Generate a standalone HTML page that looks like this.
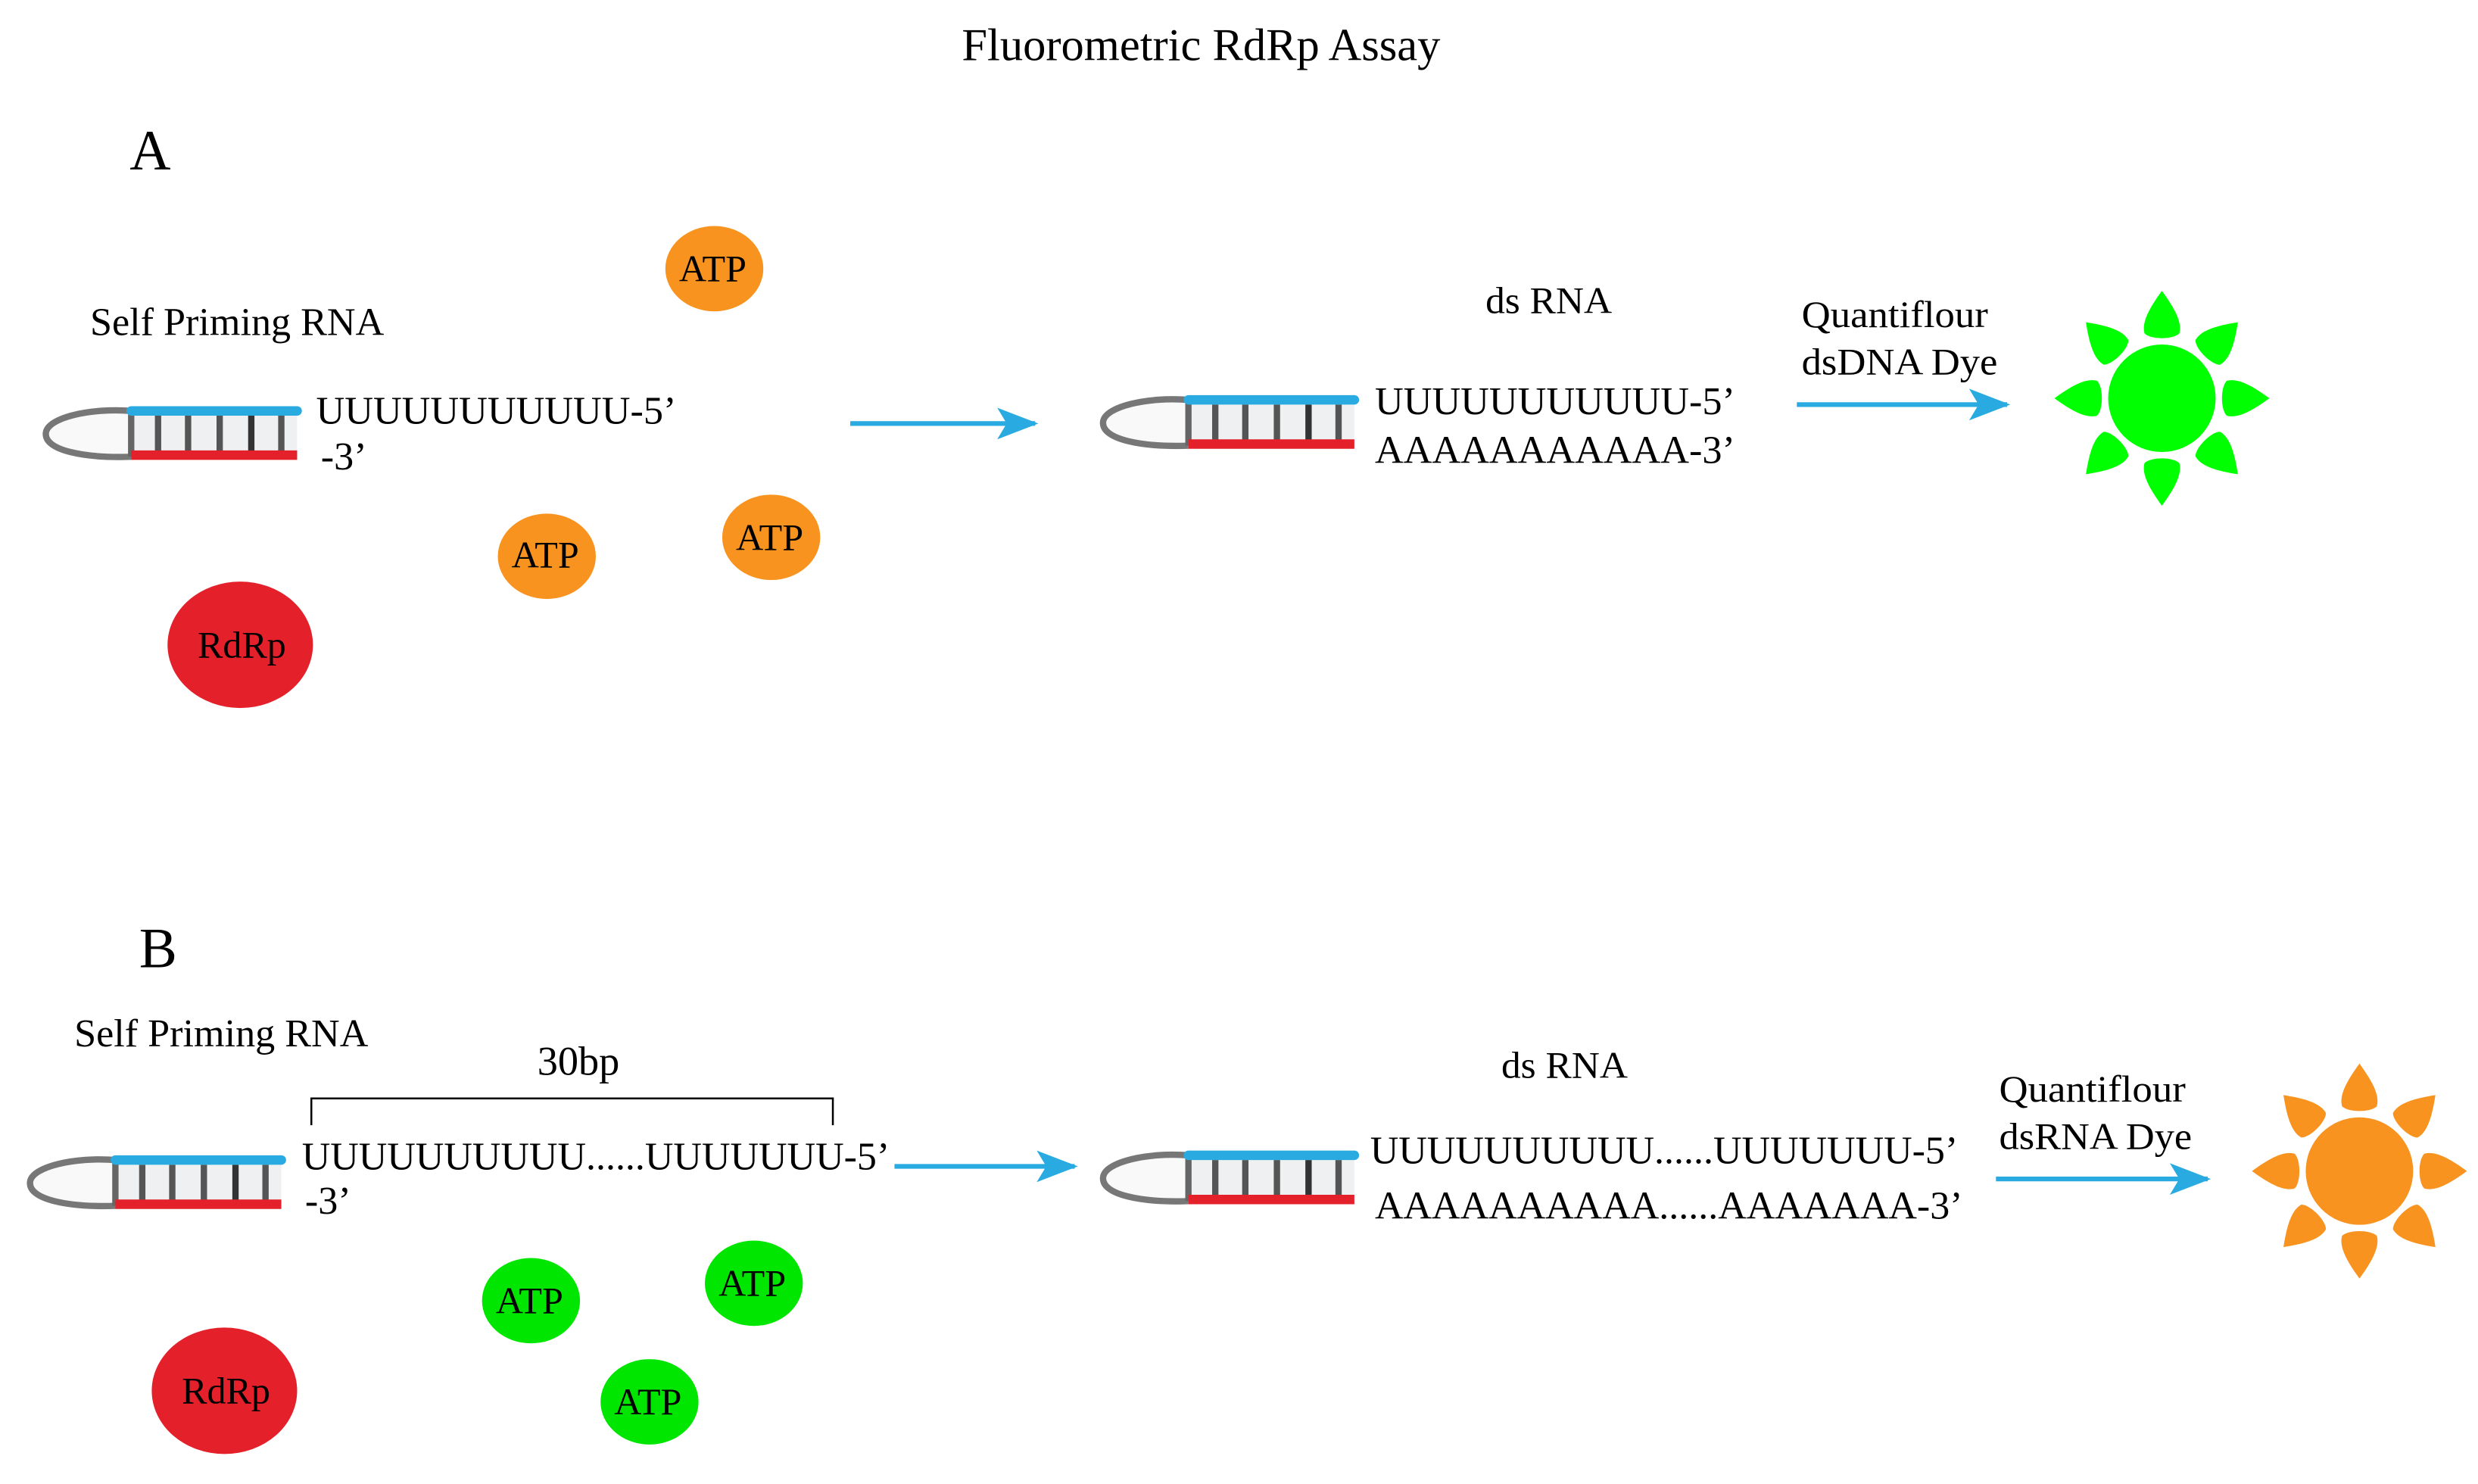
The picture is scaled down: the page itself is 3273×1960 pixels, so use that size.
<!DOCTYPE html>
<html><head><meta charset="utf-8"><style>
html,body{margin:0;padding:0;background:#fff;}
svg{display:block;}
text{font-family:"Liberation Serif",serif;fill:#000;}
</style></head><body>
<svg width="3273" height="1960" viewBox="0 0 1568 939" xmlns="http://www.w3.org/2000/svg">
<defs>
<g id="hp">
<path d="M55,1 C30,-1 2,5 1,15 C0,26 25,31 55,30" fill="#f9f9f9" stroke="#777" stroke-width="4"/>
<rect x="55" y="1" width="105" height="28" fill="#eef0f2"/>
<line x1="55" y1="1" x2="55" y2="30" stroke="#666" stroke-width="4"/>
<g stroke="#555" stroke-width="4">
<line x1="72" y1="4" x2="72" y2="27"/><line x1="91" y1="4" x2="91" y2="27"/>
<line x1="111" y1="4" x2="111" y2="27"/><line x1="131" y1="4" x2="131" y2="27" stroke="#333"/>
<line x1="150" y1="4" x2="150" y2="27"/></g>
<line x1="55" y1="1" x2="160" y2="1" stroke="#29abe2" stroke-width="6" stroke-linecap="round"/>
<line x1="55" y1="29" x2="160" y2="29" stroke="#e4202a" stroke-width="6"/>
</g>
<g id="ray"><path d="M0,-68 C-8,-57 -13,-48 -11,-41 C-7,-37 7,-37 11,-41 C13,-48 8,-57 0,-68Z"/></g>
<marker id="ah" markerWidth="26" markerHeight="20" refX="24" refY="10" orient="auto" markerUnits="userSpaceOnUse">
<path d="M0,0 L26,10 L0,20 L6,10Z" fill="#29abe2"/></marker>
</defs>

<text x="760" y="38" font-size="29" text-anchor="middle">Fluorometric RdRp Assay</text>
<text x="82" y="107" font-size="36">A</text>
<text x="88" y="612" font-size="36">B</text>

<!-- A -->
<text x="57" y="212" font-size="25" textLength="186" lengthAdjust="spacingAndGlyphs">Self Priming RNA</text>
<use href="#hp" x="28" y="259"/>
<text x="200" y="268" font-size="25" textLength="228" lengthAdjust="spacingAndGlyphs">UUUUUUUUUUU-5’</text>
<text x="203" y="297" font-size="25">-3’</text>
<ellipse cx="452" cy="170" rx="31" ry="27" fill="#f7931e"/><text x="451" y="178" font-size="24" text-anchor="middle">ATP</text>
<ellipse cx="346" cy="352" rx="31" ry="27" fill="#f7931e"/><text x="345" y="359" font-size="24" text-anchor="middle">ATP</text>
<ellipse cx="488" cy="340" rx="31" ry="27" fill="#f7931e"/><text x="487" y="348" font-size="24" text-anchor="middle">ATP</text>
<ellipse cx="152" cy="408" rx="46" ry="40" fill="#e4202a"/><text x="153" y="416" font-size="24" text-anchor="middle">RdRp</text>
<line x1="538" y1="268" x2="655" y2="268" stroke="#29abe2" stroke-width="3" marker-end="url(#ah)"/>
<text x="940" y="198" font-size="24" textLength="80" lengthAdjust="spacingAndGlyphs">ds RNA</text>
<use href="#hp" x="697" y="252"/>
<text x="870" y="262" font-size="25" textLength="228" lengthAdjust="spacingAndGlyphs">UUUUUUUUUUU-5’</text>
<text x="870" y="293" font-size="25" textLength="228" lengthAdjust="spacingAndGlyphs">AAAAAAAAAAA-3’</text>
<text x="1140" y="207" font-size="24" textLength="118" lengthAdjust="spacingAndGlyphs">Quantiflour</text>
<text x="1140" y="237" font-size="24" textLength="124" lengthAdjust="spacingAndGlyphs">dsDNA Dye</text>
<line x1="1137" y1="256" x2="1270" y2="256" stroke="#29abe2" stroke-width="3" marker-end="url(#ah)"/>
<g fill="#00ff00" transform="translate(1368,252)">
<circle r="34"/>
<use href="#ray"/><use href="#ray" transform="rotate(45)"/><use href="#ray" transform="rotate(90)"/><use href="#ray" transform="rotate(135)"/>
<use href="#ray" transform="rotate(180)"/><use href="#ray" transform="rotate(225)"/><use href="#ray" transform="rotate(270)"/><use href="#ray" transform="rotate(315)"/>
</g>

<!-- B -->
<text x="47" y="662" font-size="25" textLength="186" lengthAdjust="spacingAndGlyphs">Self Priming RNA</text>
<text x="340" y="680" font-size="26">30bp</text>
<path d="M197,712 L197,695 L527,695 L527,712" fill="none" stroke="#000" stroke-width="1.2"/>
<use href="#hp" x="18" y="733"/>
<text x="191" y="740" font-size="25" textLength="372" lengthAdjust="spacingAndGlyphs">UUUUUUUUUU......UUUUUUU-5’</text>
<text x="193" y="768" font-size="25">-3’</text>
<line x1="566" y1="738" x2="680" y2="738" stroke="#29abe2" stroke-width="3" marker-end="url(#ah)"/>
<ellipse cx="336" cy="823" rx="31" ry="27" fill="#00e600"/><text x="335" y="831" font-size="24" text-anchor="middle">ATP</text>
<ellipse cx="477" cy="812" rx="31" ry="27" fill="#00e600"/><text x="476" y="820" font-size="24" text-anchor="middle">ATP</text>
<ellipse cx="411" cy="887" rx="31" ry="27" fill="#00e600"/><text x="410" y="895" font-size="24" text-anchor="middle">ATP</text>
<ellipse cx="142" cy="880" rx="46" ry="40" fill="#e4202a"/><text x="143" y="888" font-size="24" text-anchor="middle">RdRp</text>
<text x="950" y="682" font-size="24" textLength="80" lengthAdjust="spacingAndGlyphs">ds RNA</text>
<use href="#hp" x="697" y="730"/>
<text x="867" y="736" font-size="25" textLength="372" lengthAdjust="spacingAndGlyphs">UUUUUUUUUU......UUUUUUU-5’</text>
<text x="870" y="771" font-size="25" textLength="372" lengthAdjust="spacingAndGlyphs">AAAAAAAAAA......AAAAAAA-3’</text>
<text x="1265" y="697" font-size="24" textLength="118" lengthAdjust="spacingAndGlyphs">Quantiflour</text>
<text x="1265" y="727" font-size="24" textLength="122" lengthAdjust="spacingAndGlyphs">dsRNA Dye</text>
<line x1="1263" y1="746" x2="1397" y2="746" stroke="#29abe2" stroke-width="3" marker-end="url(#ah)"/>
<g fill="#f7931e" transform="translate(1493,741)">
<circle r="34"/>
<use href="#ray"/><use href="#ray" transform="rotate(45)"/><use href="#ray" transform="rotate(90)"/><use href="#ray" transform="rotate(135)"/>
<use href="#ray" transform="rotate(180)"/><use href="#ray" transform="rotate(225)"/><use href="#ray" transform="rotate(270)"/><use href="#ray" transform="rotate(315)"/>
</g>
</svg>
</body></html>
